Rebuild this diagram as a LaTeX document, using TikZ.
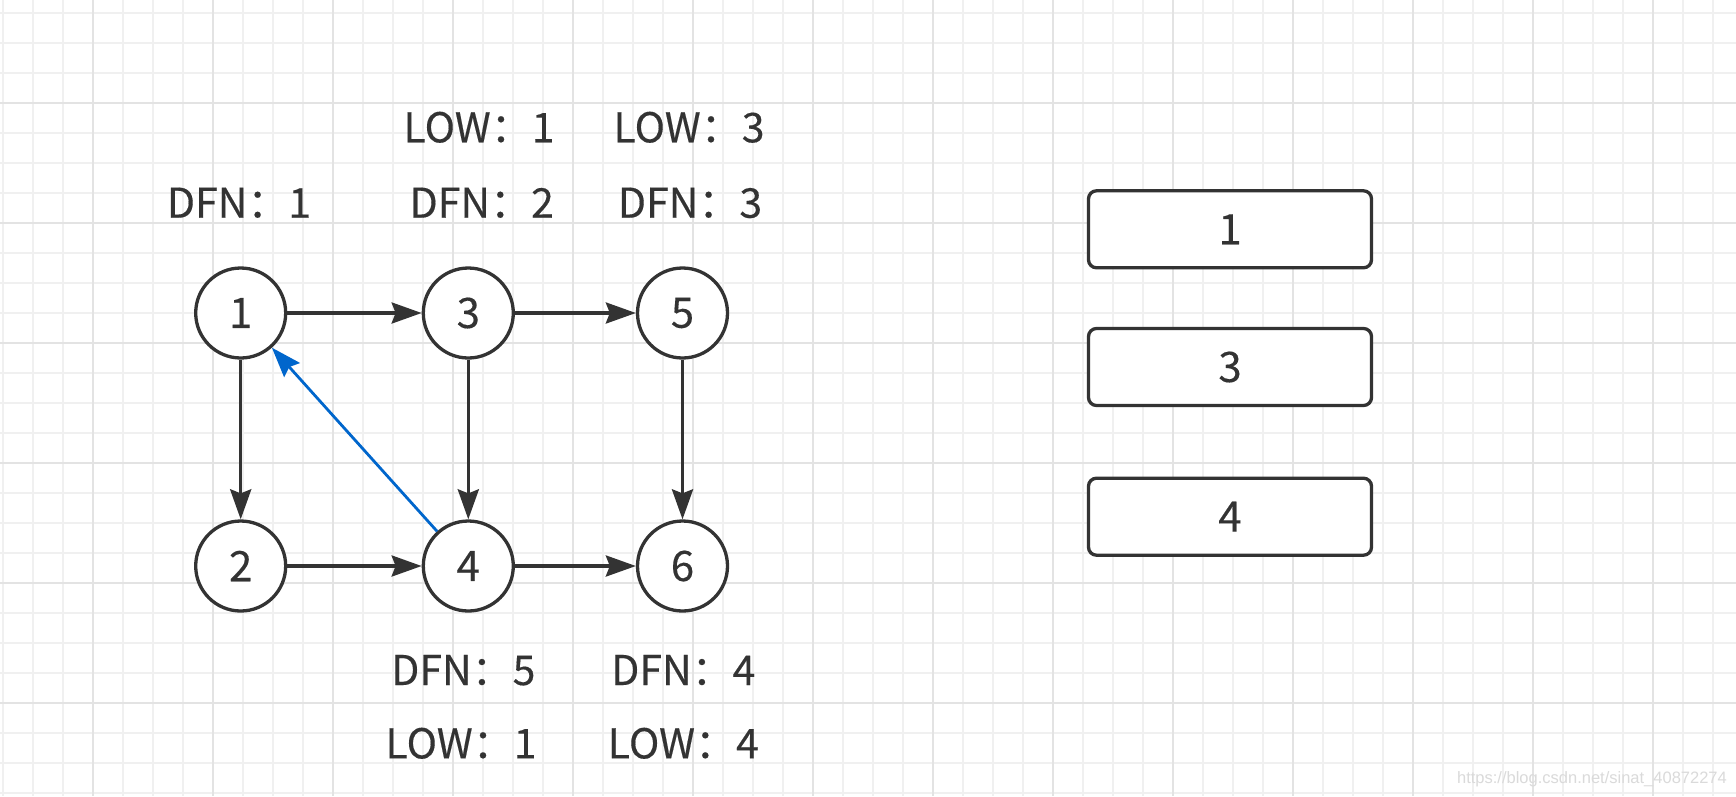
\documentclass[tikz,border=0pt]{standalone}
\usepackage{fontspec}
\setmainfont{Noto Sans CJK SC}[FakeBold=0.3]
\newfontfamily\wmfont{Liberation Sans}
\usetikzlibrary{arrows.meta}
\definecolor{ink}{HTML}{333333}
\definecolor{gridminor}{HTML}{F0F0F0}
\definecolor{gridmajor}{HTML}{E3E3E3}
\definecolor{backblue}{HTML}{0066CC}
\definecolor{wmgray}{HTML}{DADADA}
\begin{document}
\begin{tikzpicture}[x=1pt,y=-1pt,
  bigtext/.style={font=\fontsize{41}{48}\selectfont},
  numtext/.style={font=\fontsize{42}{48}\selectfont},
  vertex/.style={circle, draw=ink, fill=white, line width=3.3pt, minimum size=90pt, inner sep=0pt, text=ink, numtext},
  stackbox/.style={rectangle, rounded corners=8pt, draw=ink, fill=white, line width=3.3pt, minimum width=283pt, minimum height=77pt, inner sep=0pt, text=ink, numtext},
  lbl/.style={anchor=base, inner sep=0pt, text=ink, bigtext},
  arr/.style={draw=ink, line width=3.5pt, -{Stealth[length=30pt,width=21pt,inset=4pt]}},
  backarr/.style={draw=backblue, line width=2.8pt, -{Stealth[length=30pt,width=21pt,inset=4pt]}},
  minorline/.style={draw=gridminor, line width=1.5pt},
  majorline/.style={draw=gridmajor, line width=2pt},
]
\fill[white] (0,0) rectangle (1736,796);
\path[use as bounding box] (0,0) rectangle (1736,796);
% grid
\foreach \i in {0,...,57} \draw[minorline] ({3+30*\i},0) -- ({3+30*\i},796);
\foreach \j in {0,...,26} \draw[minorline] (0,{13+30*\j}) -- (1736,{13+30*\j});
\foreach \i in {0,...,13} \draw[majorline] ({93+120*\i},0) -- ({93+120*\i},796);
\foreach \j in {0,...,5} \draw[majorline] (0,{103+120*\j}) -- (1736,{103+120*\j});

% vertices
\node[vertex] (n1) at (240.7,313) {1};
\node[vertex] (n3) at (468.3,313) {3};
\node[vertex] (n5) at (682.5,313) {5};
\node[vertex] (n2) at (240.7,566) {2};
\node[vertex] (n4) at (468.3,566) {4};
\node[vertex] (n6) at (682.5,566) {6};

% edges
\draw[arr] (n1) -- (n3);
\draw[arr] (n3) -- (n5);
\draw[arr] (n2) -- (n4);
\draw[arr] (n4) -- (n6);
\draw[arr] (n1) -- (n2);
\draw[arr] (n3) -- (n4);
\draw[arr] (n5) -- (n6);
\draw[backarr] (n4) -- (n1);

% labels
\node[lbl] (l1d) at (239,217.7) {DFN：1};
\node[lbl] (l3l) at (479,142.3) {LOW：1};
\node[lbl] (l3d) at (481.7,217.7) {DFN：2};
\node[lbl] (l5l) at (689,142.3) {LOW：3};
\node[lbl] (l5d) at (690,217.7) {DFN：3};
\node[lbl] (l4d) at (463.3,685) {DFN：5};
\node[lbl] (l4l) at (461,758.3) {LOW：1};
\node[lbl] (l6d) at (683.3,685) {DFN：4};
\node[lbl] (l6l) at (683.3,758.3) {LOW：4};

% stack
\node[stackbox] (s1) at (1230,229.3) {1};
\node[stackbox] (s3) at (1230,367) {3};
\node[stackbox] (s4) at (1230,516.7) {4};

% watermark
\node[anchor=base east, inner sep=0pt, text=wmgray, font=\wmfont\fontsize{16.5}{19}\selectfont] (wm) at (1727,783) {https://blog.csdn.net/sinat\_40872274};
\end{tikzpicture}
\end{document}
